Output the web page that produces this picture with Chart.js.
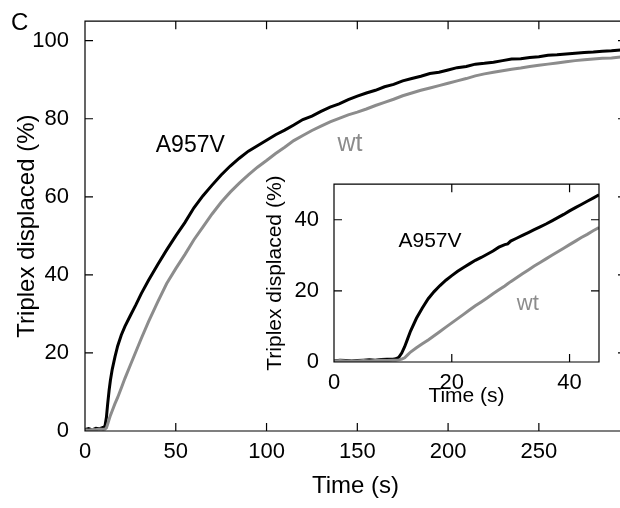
<!DOCTYPE html>
<html lang="en">
<head>
<meta charset="UTF-8">
<title>Triplex displacement</title>
<script src="https://cdn.jsdelivr.net/npm/chart.js"></script>
<style>
  html, body { margin: 0; padding: 0; background: #fff; overflow: hidden; }
  #wrap { position: relative; width: 620px; height: 508px; overflow: hidden; background: #fff; }
  #mainChart { position: absolute; left: 0; top: 0; }
  #insetChart { position: absolute; left: 262px; top: 164px; }
</style>
</head>
<body>
<div id="wrap">
  <canvas id="mainChart" width="640" height="508"></canvas>
  <canvas id="insetChart" width="345" height="246"></canvas>
</div>
<script>
// main panel data (time in s, triplex displaced in %)
const mainTime = [0, 2, 4, 6, 8, 10, 11, 11.8, 12.5, 13.3, 14, 15, 16.5, 18, 20, 22, 25, 28, 31, 35, 40, 45,
  50, 55, 60, 65, 70, 75, 80, 85, 90, 95, 100, 105, 110, 115, 120, 125, 130, 135, 140, 145, 150, 155, 160,
  165, 170, 175, 180, 185, 190, 195, 200, 205, 210, 215, 220, 225, 230, 235, 240, 245, 250, 255, 260, 265,
  270, 275, 280, 285, 290, 295, 298];
const mainA957V = [0.4, 0.6, 0.3, 0.7, 0.6, 0.9, 1.2, 3.5, 7, 10.5, 13, 15.8, 19, 21.8, 24.6, 26.8, 29.6, 32.3, 35.2, 38.6, 42.6, 46.4,
  50, 53.4, 57.2, 60.3, 63, 65.6, 67.9, 69.9, 71.7, 73.1, 74.5, 75.9, 77.1, 78.4, 79.8, 80.7, 81.9, 83, 83.8, 84.9, 85.8, 86.6, 87.3,
  88.2, 88.8, 89.7, 90.3, 90.9, 91.6, 91.9, 92.5, 93.1, 93.4, 94, 94.2, 94.5, 94.9, 95.3, 95.4, 95.7, 95.9, 96.3, 96.4, 96.6,
  96.8, 97, 97.1, 97.3, 97.4, 97.6, 97.7];
const mainWt = [0.3, 0.2, 0.4, 0.3, 0.5, 0.4, 0.5, 0.8, 1.8, 3, 4, 5.2, 7, 8.6, 11, 13.5, 16.9, 20.3, 23.7, 28, 33, 37.8,
  41.6, 45.2, 49, 52.3, 55.6, 58.6, 61.2, 63.5, 65.6, 67.6, 69.3, 71.1, 72.7, 74.4, 75.7, 77, 78.1, 79.2, 80.1, 81, 81.7, 82.5, 83.4,
  84.2, 85, 85.9, 86.6, 87.3, 87.9, 88.5, 89.1, 89.7, 90.3, 91, 91.5, 91.9, 92.3, 92.7, 93, 93.4, 93.7, 94, 94.3, 94.6,
  94.9, 95.1, 95.3, 95.5, 95.6, 95.8, 95.9];
const mainXTicks = [0, 50, 100, 150, 200, 250];
const mainYTicks = [0, 20, 40, 60, 80, 100];

// inset data (first 45 s)
const insetTime = [0, 1, 2, 3, 4, 5, 6, 7, 8, 9, 10, 10.5, 11, 11.5, 12, 12.5, 13, 14, 15, 16, 17, 18, 19, 20,
  21, 22, 23, 24, 25, 26, 27, 28, 29, 29.5, 30, 31, 32, 33, 34, 35, 36, 37, 38, 39, 40, 41, 42, 43, 44, 45];
const insetA957V = [0.3, 0.5, 0.4, 0.3, 0.4, 0.5, 0.6, 0.5, 0.7, 0.8, 0.8, 0.9, 1.3, 2.5, 4.3, 6.5, 8.7, 12.3, 15.2, 17.8, 19.8, 21.5, 23, 24.3,
  25.5, 26.6, 27.6, 28.6, 29.4, 30.3, 31.2, 32.3, 33, 33.2, 34, 34.8, 35.6, 36.4, 37.2, 38, 38.8, 39.7, 40.6, 41.5, 42.5, 43.4, 44.3, 45.2, 46.1, 47];
const insetWt = [0.2, 0.4, 0.3, 0.2, 0.3, 0.4, 0.3, 0.4, 0.5, 0.4, 0.5, 0.5, 0.6, 0.8, 1.2, 2, 2.8, 4, 5.1, 6.2, 7.4, 8.6, 9.8, 11,
  12.2, 13.4, 14.6, 15.8, 16.9, 18, 19.2, 20.3, 21.4, 22, 22.6, 23.7, 24.8, 25.9, 27, 28, 29, 30, 31, 32, 33, 34, 35, 35.9, 36.9, 37.8];
const insetXTicks = [0, 20, 40];
const insetYTicks = [0, 20, 40];

const GRAY = '#8c8c8c';
const FONT = "'Liberation Sans', Arial, sans-serif";
Chart.defaults.font.family = FONT;
Chart.defaults.color = '#000';

const toPoints = (xs, ys) => xs.map((x, i) => ({ x: x, y: ys[i] }));

// box around the plot + inward ticks on all four sides, plus text labels
const frameTicks = {
  id: 'frameTicks',
  afterDatasetsDraw(chart, args, opts) {
    const { ctx, chartArea: a, scales: { x, y } } = chart;
    const L = opts.tickLen || 8;
    ctx.save();
    ctx.strokeStyle = '#000';
    ctx.lineWidth = 1.2;
    ctx.beginPath();
    ctx.rect(a.left, a.top, a.right - a.left, a.bottom - a.top);
    x.ticks.forEach(t => {
      const px = x.getPixelForValue(t.value);
      ctx.moveTo(px, a.bottom); ctx.lineTo(px, a.bottom - L);
      ctx.moveTo(px, a.top); ctx.lineTo(px, a.top + L);
    });
    y.ticks.forEach(t => {
      const py = y.getPixelForValue(t.value);
      ctx.moveTo(a.left, py); ctx.lineTo(a.left + L, py);
      ctx.moveTo(a.right, py); ctx.lineTo(a.right - L, py);
    });
    ctx.stroke();

    ctx.textAlign = 'center';
    ctx.textBaseline = 'middle';
    (opts.texts || []).forEach(t => {
      ctx.font = t.size + 'px ' + FONT;
      ctx.fillStyle = t.color;
      ctx.fillText(t.text, x.getPixelForValue(t.x), y.getPixelForValue(t.y));
    });
    if (opts.panel) {
      ctx.font = '24px ' + FONT;
      ctx.fillStyle = '#000';
      ctx.textAlign = 'left';
      ctx.textBaseline = 'alphabetic';
      ctx.fillText(opts.panel, 11, 30);
    }
    ctx.restore();
  }
};

function lineSet(label, xs, ys, color) {
  return { label: label, data: toPoints(xs, ys), borderColor: color, borderWidth: 3,
           pointRadius: 0, tension: 0, fill: false };
}

function axis(min, max, ticks, size, pad, fit) {
  return {
    type: 'linear', min: min, max: max,
    grid: { display: false }, border: { display: false },
    afterBuildTicks: s => { s.ticks = ticks.map(v => ({ value: v })); },
    afterFit: fit,
    ticks: { font: { size: size }, color: '#000', padding: pad, maxRotation: 0 }
  };
}

// main chart
const mx = axis(0, 298, mainXTicks, 22, 0, s => { s.height = 77; });
mx.title = { display: true, text: 'Time (s)', font: { size: 24 }, color: '#000', padding: { top: 0, bottom: 7 } };
const my = axis(0, 105, mainYTicks, 22, 8, s => { s.width = 85; });
my.title = { display: true, text: 'Triplex displaced (%)', font: { size: 24 }, color: '#000', padding: { top: 13, bottom: 0 } };

new Chart(document.getElementById('mainChart'), {
  type: 'line',
  data: { datasets: [
    lineSet('wt', mainTime, mainWt, GRAY),
    lineSet('A957V', mainTime, mainA957V, '#000')
  ] },
  options: {
    responsive: false, animation: false, devicePixelRatio: 1,
    layout: { padding: { top: 15, right: 14, left: 0, bottom: 0 } },
    plugins: {
      legend: { display: false }, tooltip: { enabled: false },
      frameTicks: {
        tickLen: 8, panel: 'C',
        texts: [
          { text: 'A957V', x: 58, y: 73, color: '#000', size: 23 },
          { text: 'wt', x: 146, y: 73.5, color: GRAY, size: 25 }
        ]
      }
    },
    scales: { x: mx, y: my }
  },
  plugins: [frameTicks]
});

// inset chart
const ix = axis(0, 45, insetXTicks, 22, 0, s => { s.height = 48; });
ix.title = { display: true, text: 'Time (s)', font: { size: 21 }, color: '#000', padding: { top: 0, bottom: 1 } };
const iy = axis(0, 50, insetYTicks, 22, 7, s => { s.width = 72; });
iy.title = { display: true, text: 'Triplex displaced (%)', font: { size: 21 }, color: '#000', padding: { top: 1, bottom: 0 } };

new Chart(document.getElementById('insetChart'), {
  type: 'line',
  data: { datasets: [
    lineSet('wt', insetTime, insetWt, GRAY),
    lineSet('A957V', insetTime, insetA957V, '#000')
  ] },
  options: {
    responsive: false, animation: false, devicePixelRatio: 1,
    layout: { padding: { top: 10, right: 8, left: 0, bottom: 0 } },
    plugins: {
      legend: { display: false }, tooltip: { enabled: false },
      frameTicks: {
        tickLen: 8,
        texts: [
          { text: 'A957V', x: 16.3, y: 34, color: '#000', size: 21 },
          { text: 'wt', x: 32.9, y: 16.4, color: GRAY, size: 22 }
        ]
      }
    },
    scales: { x: ix, y: iy }
  },
  plugins: [frameTicks]
});
</script>
</body>
</html>
